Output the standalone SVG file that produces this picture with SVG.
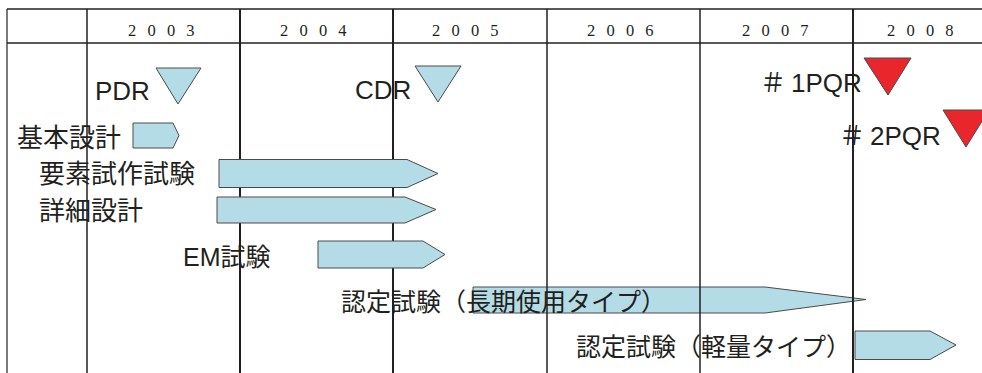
<svg xmlns="http://www.w3.org/2000/svg" width="982" height="373" viewBox="0 0 982 373">
<style>
.grid{stroke:#231f20;stroke-width:1.5;fill:none}
.yr{font-family:"Liberation Serif","Noto Serif CJK JP",serif;font-size:16.5px;fill:#231f20;letter-spacing:11.2px}
.lbl{font-family:"Liberation Sans","Noto Sans CJK JP",sans-serif;fill:#231f20}
.bar{fill:#b4dce6;stroke:#4a4a4a;stroke-width:1}
.ms{fill:#b4dce6;stroke:#4a4a4a;stroke-width:1}
.pq{fill:#e8262b;stroke:#4a4a4a;stroke-width:1}
</style>
<rect width="982" height="373" fill="#ffffff"/>
<g id="bar-long">
<polygon class="bar" points="473,287 765,287 866,299.5 765,313 473,313"/>
</g>
<g id="grid" class="grid">
<line x1="7" y1="9" x2="982" y2="9"/>
<line x1="7" y1="43" x2="982" y2="43"/>
<line x1="7" y1="9" x2="7" y2="373" stroke-width="1.2"/>
<line x1="87" y1="9" x2="87" y2="373"/>
<line x1="240" y1="9" x2="240" y2="373" stroke-width="2"/>
<line x1="393" y1="9" x2="393" y2="373" stroke-width="2"/>
<line x1="547" y1="9" x2="547" y2="373"/>
<line x1="700" y1="9" x2="700" y2="373"/>
<line x1="853" y1="9" x2="853" y2="373" stroke-width="2"/>
</g>
<g id="years">
<text class="yr" x="128" y="35.5">2003</text>
<text class="yr" x="280" y="35.5">2004</text>
<text class="yr" x="432" y="35.5">2005</text>
<text class="yr" x="587" y="35.5">2006</text>
<text class="yr" x="742" y="35.5">2007</text>
<text class="yr" x="887" y="35.5">2008</text>
</g>
<g id="pdr">
<polygon class="ms" points="156,68 201,68 178,104"/>
<text class="lbl" x="95" y="100" font-size="26">PDR</text>
</g>
<g id="cdr">
<polygon class="ms" points="415,66 461,66 438,102"/>
<text class="lbl" x="355" y="99" font-size="26">CDR</text>
</g>
<g id="pqr1">
<polygon class="pq" points="864,58 911,58 888,95"/>
<text class="lbl" x="760" y="92" font-size="26">＃<tspan dx="5">1PQR</tspan></text>
</g>
<g id="pqr2">
<polygon class="pq" points="943,110 989,110 966,147"/>
<text class="lbl" x="839" y="145" font-size="26">＃<tspan dx="5">2PQR</tspan></text>
</g>
<g id="kihon">
<polygon class="bar" points="133,123 173,123 179,135.5 173,148 133,148"/>
<text class="lbl" x="17" y="147" font-size="26">基本設計</text>
</g>
<g id="yoso">
<polygon class="bar" points="219,159.5 407,159.5 438,173.5 407,187.5 219,187.5"/>
<text class="lbl" x="39" y="183" font-size="26">要素試作試験</text>
</g>
<g id="shosai">
<polygon class="bar" points="217,197 405,197 436,209.5 405,223 217,223"/>
<text class="lbl" x="39" y="220" font-size="26">詳細設計</text>
</g>
<g id="em">
<polygon class="bar" points="318,241 423,241 445,254.5 423,268 318,268"/>
<text class="lbl" x="183" y="266" font-size="25">EM試験</text>
</g>
<g id="nintei-long">
<text class="lbl" x="341" y="311" font-size="25">認定試験（長期使用タイプ）</text>
</g>
<g id="nintei-light">
<polygon class="bar" points="855,331 930,331 956,345 930,359.5 855,359.5"/>
<text class="lbl" x="576" y="356" font-size="25">認定試験（軽量タイプ）</text>
</g>
</svg>
